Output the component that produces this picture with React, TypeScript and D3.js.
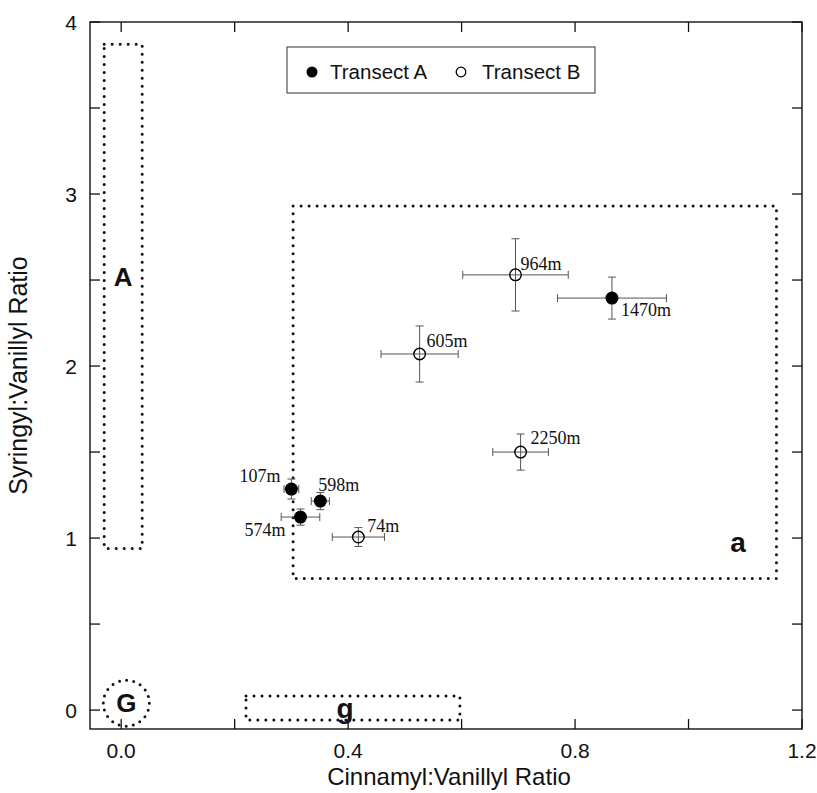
import React from "react";
import * as d3 from "d3";

// Sample sites (water depth) and their lignin ratios
const sites = ["107m", "598m", "574m", "1470m", "74m", "605m", "964m", "2250m"];
const transect = ["A", "A", "A", "A", "B", "B", "B", "B"];
const cvRatio = [0.3, 0.351, 0.316, 0.865, 0.418, 0.526, 0.695, 0.704];
const svRatio = [1.285, 1.215, 1.122, 2.395, 1.006, 2.07, 2.53, 1.5];
const cvErr = [0.013, 0.016, 0.034, 0.096, 0.046, 0.068, 0.093, 0.049];
const svErr = [0.058, 0.05, 0.047, 0.122, 0.055, 0.163, 0.21, 0.105];

const xTickLabels = [0, 0.4, 0.8, 1.2];
const yTickLabels = [0, 1, 2, 3, 4];

// Source-type regions (gymnosperm/angiosperm, woody/non-woody)
const regionNames = ["A", "a", "g"];
const regionX0 = [-0.03, 0.303, 0.22];
const regionX1 = [0.037, 1.155, 0.597];
const regionY0 = [0.94, 0.765, -0.058];
const regionY1 = [3.87, 2.93, 0.082];
const gCenter = [0.009, 0.04];

// Label placement around each point (pixels)
const labelPlacement: Record<string, { dx: number; dy: number; anchor: string }> = {
  "107m": { dx: -11, dy: -7, anchor: "end" },
  "598m": { dx: -2, dy: -10, anchor: "start" },
  "574m": { dx: -15, dy: 19, anchor: "end" },
  "1470m": { dx: 9, dy: 18, anchor: "start" },
  "74m": { dx: 9, dy: -5, anchor: "start" },
  "605m": { dx: 7, dy: -7, anchor: "start" },
  "964m": { dx: 5, dy: -5, anchor: "start" },
  "2250m": { dx: 10, dy: -8, anchor: "start" },
};

const W = 817;
const H = 793;
const left = 90;
const right = 802;
const top = 22;
const bottom = 729;

export default function App() {
  const x = d3.scaleLinear().domain([-0.055, 1.2]).range([left, right]);
  const y = d3.scaleLinear().domain([-0.11, 4]).range([bottom, top]);

  const xMinor = d3.range(0, 1.2001, 0.2);
  const yMinor = d3.range(0, 4.001, 0.5);
  const tickLen = 10;
  const sans = "Arial, 'Liberation Sans', Helvetica, sans-serif";
  const serif = "'Times New Roman', 'Liberation Serif', serif";
  const dotted = { fill: "none", stroke: "#111", strokeWidth: 3, strokeLinecap: "round" as const, strokeDasharray: "0 8" };
  const cap = 4;

  return (
    <svg width={W} height={H} style={{ position: "absolute", left: 0, top: 0, background: "#fff" }}>
      <rect x={0} y={0} width={W} height={H} fill="#fff" />

      {/* frame */}
      <rect x={left} y={top} width={right - left} height={bottom - top} fill="none" stroke="#111" strokeWidth={1.4} />

      {/* ticks on all four sides */}
      {xMinor.map((v, i) => (
        <g key={"xt" + i} stroke="#111" strokeWidth={1.3}>
          <line x1={x(v)} x2={x(v)} y1={bottom} y2={bottom - tickLen} />
          <line x1={x(v)} x2={x(v)} y1={top} y2={top + tickLen} />
        </g>
      ))}
      {yMinor.map((v, i) => (
        <g key={"yt" + i} stroke="#111" strokeWidth={1.3}>
          <line x1={left} x2={left + tickLen} y1={y(v)} y2={y(v)} />
          <line x1={right} x2={right - tickLen} y1={y(v)} y2={y(v)} />
        </g>
      ))}

      {/* tick labels */}
      {xTickLabels.map((v) => (
        <text key={"xl" + v} x={x(v)} y={bottom + 29} textAnchor="middle" fontFamily={sans} fontSize={21} fill="#111">
          {d3.format(".1f")(v)}
        </text>
      ))}
      {yTickLabels.map((v) => (
        <text key={"yl" + v} x={left - 13} y={y(v) + 7.5} textAnchor="end" fontFamily={sans} fontSize={21} fill="#111">
          {v}
        </text>
      ))}

      {/* axis titles */}
      <text x={449} y={785} textAnchor="middle" fontFamily={sans} fontSize={24} fill="#111">
        Cinnamyl:Vanillyl Ratio
      </text>
      <text
        transform={`translate(27, ${(top + bottom) / 2}) rotate(-90)`}
        textAnchor="middle"
        fontFamily={sans}
        fontSize={25}
        fill="#111"
      >
        Syringyl:Vanillyl Ratio
      </text>

      {/* dotted source regions */}
      {regionNames.map((n, i) => (
        <rect
          key={"r" + n}
          x={x(regionX0[i])}
          y={y(regionY1[i])}
          width={x(regionX1[i]) - x(regionX0[i])}
          height={y(regionY0[i]) - y(regionY1[i])}
          {...dotted}
        />
      ))}
      <circle cx={x(gCenter[0])} cy={y(gCenter[1])} r={23} {...dotted} strokeDasharray="0 7.2" />

      {/* region letters */}
      <text x={x((regionX0[0] + regionX1[0]) / 2)} y={286} textAnchor="middle" fontFamily={sans} fontWeight="bold" fontSize={26} fill="#111">
        A
      </text>
      <text x={738} y={552} textAnchor="middle" fontFamily={sans} fontWeight="bold" fontSize={28} fill="#111">
        a
      </text>
      <text x={x(gCenter[0])} y={y(gCenter[1]) + 9} textAnchor="middle" fontFamily={sans} fontWeight="bold" fontSize={26} fill="#111">
        G
      </text>
      <text x={345} y={718} textAnchor="middle" fontFamily={sans} fontWeight="bold" fontSize={28} fill="#111">
        g
      </text>

      {/* error bars */}
      {sites.map((s, i) => {
        const cx = x(cvRatio[i]);
        const cy = y(svRatio[i]);
        const xl = x(cvRatio[i] - cvErr[i]);
        const xr = x(cvRatio[i] + cvErr[i]);
        const yt = y(svRatio[i] + svErr[i]);
        const yb = y(svRatio[i] - svErr[i]);
        return (
          <g key={"e" + s} stroke="#555" strokeWidth={1}>
            <line x1={xl} x2={xr} y1={cy} y2={cy} />
            <line x1={xl} x2={xl} y1={cy - cap} y2={cy + cap} />
            <line x1={xr} x2={xr} y1={cy - cap} y2={cy + cap} />
            <line x1={cx} x2={cx} y1={yt} y2={yb} />
            <line x1={cx - cap} x2={cx + cap} y1={yt} y2={yt} />
            <line x1={cx - cap} x2={cx + cap} y1={yb} y2={yb} />
          </g>
        );
      })}

      {/* points */}
      {sites.map((s, i) =>
        transect[i] === "A" ? (
          <circle key={"p" + s} cx={x(cvRatio[i])} cy={y(svRatio[i])} r={6.5} fill="#000" />
        ) : (
          <circle key={"p" + s} cx={x(cvRatio[i])} cy={y(svRatio[i])} r={5.8} fill="none" stroke="#000" strokeWidth={1.4} />
        )
      )}

      {/* depth labels */}
      {sites.map((s, i) => {
        const p = labelPlacement[s];
        return (
          <text
            key={"l" + s}
            x={x(cvRatio[i]) + p.dx}
            y={y(svRatio[i]) + p.dy}
            textAnchor={p.anchor}
            fontFamily={serif}
            fontSize={18}
            fill="#111"
          >
            {s}
          </text>
        );
      })}

      {/* legend */}
      <rect x={287} y={47} width={308} height={46} fill="#fff" stroke="#333" strokeWidth={1} />
      <circle cx={312} cy={72} r={5.5} fill="#000" />
      <text x={330} y={79} fontFamily={sans} fontSize={20.5} fill="#111">
        Transect A
      </text>
      <circle cx={461} cy={72} r={4.8} fill="none" stroke="#000" strokeWidth={1.3} />
      <text x={482} y={79} fontFamily={sans} fontSize={20.5} fill="#111">
        Transect B
      </text>
    </svg>
  );
}
